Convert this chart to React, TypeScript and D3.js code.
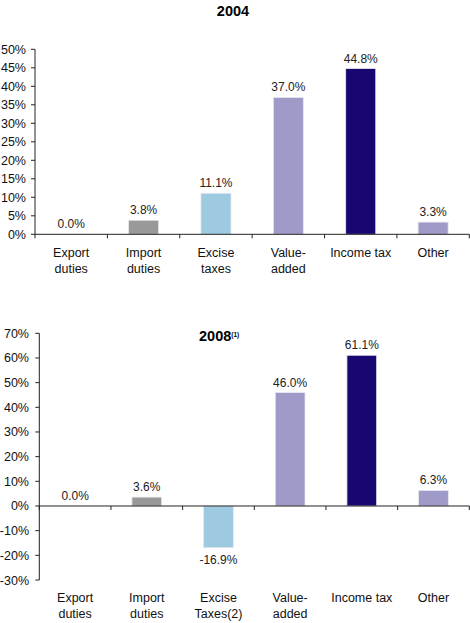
import React from "react";
import * as d3 from "d3";

const categories2004 = [["Export", "duties"], ["Import", "duties"], ["Excise", "taxes"], ["Value-", "added"], ["Income tax"], ["Other"]];
const values2004 = [0.0, 3.8, 11.1, 37.0, 44.8, 3.3];
const ticks2004 = [0, 5, 10, 15, 20, 25, 30, 35, 40, 45, 50];

const categories2008 = [["Export", "duties"], ["Import", "duties"], ["Excise", "Taxes(2)"], ["Value-", "added"], ["Income tax"], ["Other"]];
const values2008 = [0.0, 3.6, -16.9, 46.0, 61.1, 6.3];
const ticks2008 = [-30, -20, -10, 0, 10, 20, 30, 40, 50, 60, 70];

const colors = ["#999999", "#999999", "#9ecae1", "#9e9bc8", "#1a0670", "#9e9bc8"];

const FONT = "Arial, 'Liberation Sans', sans-serif";

type PanelProps = {
  cats: string[][];
  vals: number[];
  ticks: number[];
  x0: number;
  x1: number;
  yTop: number;
  yBot: number;
  labelRight: number;
  catBaseline: number;
};

function Panel({ cats, vals, ticks, x0, x1, yTop, yBot, labelRight, catBaseline }: PanelProps) {
  const names = cats.map((c) => c.join(" "));
  const x = d3.scaleBand<string>().domain(names).range([x0, x1]).paddingInner(0).paddingOuter(0);
  const y = d3.scaleLinear().domain([ticks[0], ticks[ticks.length - 1]]).range([yBot, yTop]);
  const bw = x.bandwidth() * 0.415;
  const y0 = y(0);
  const boundaries = d3.range(names.length + 1).map((i) => x0 + i * x.step());
  return (
    <g fontFamily={FONT}>
      {vals.map((v, i) => {
        const cx = (x(names[i]) as number) + x.bandwidth() / 2;
        const top = Math.min(y(v), y0);
        const h = Math.abs(y(v) - y0);
        return (
          <g key={i}>
            {h > 0 && (
              <rect x={cx - bw / 2} y={top} width={bw} height={h} fill={colors[i]} stroke="#e8e8f0" strokeWidth={0.8} />
            )}
            <text
              x={cx}
              y={v < 0 ? y(v) + 16 : y(v) - 6}
              textAnchor="middle"
              fontSize={12}
              fill="#222"
            >
              {v.toFixed(1) + "%"}
            </text>
          </g>
        );
      })}
      {/* y axis */}
      <line x1={x0} x2={x0} y1={yTop} y2={yBot} stroke="#222" strokeWidth={1} />
      {ticks.map((t) => (
        <g key={t}>
          <line x1={x0 - 4} x2={x0} y1={y(t)} y2={y(t)} stroke="#222" strokeWidth={1} />
          <text x={labelRight} y={y(t) + 4.5} textAnchor="end" fontSize={12.5} fill="#111">
            {t + "%"}
          </text>
        </g>
      ))}
      {/* x axis */}
      <line x1={x0} x2={x1} y1={y0} y2={y0} stroke="#222" strokeWidth={1} />
      {boundaries.map((b, i) => (
        <line key={i} x1={b} x2={b} y1={y0} y2={y0 + 4} stroke="#222" strokeWidth={1} />
      ))}
      {cats.map((c, i) => {
        const cx = (x(names[i]) as number) + x.bandwidth() / 2;
        return (
          <text key={i} x={cx} y={catBaseline} textAnchor="middle" fontSize={12.5} fill="#111">
            {c.map((line, j) => (
              <tspan key={j} x={cx} dy={j === 0 ? 0 : 16}>
                {line}
              </tspan>
            ))}
          </text>
        );
      })}
    </g>
  );
}

export default function App() {
  return (
    <svg
      width={470}
      height={623}
      style={{ position: "absolute", left: 0, top: 0, background: "#fff" }}
    >
      <rect width={470} height={623} fill="#fff" />
      <text x={233} y={16} textAnchor="middle" fontSize={14.5} fontWeight="bold" fontFamily={FONT} fill="#000">
        2004
      </text>
      <Panel
        cats={categories2004}
        vals={values2004}
        ticks={ticks2004}
        x0={35}
        x1={469.3}
        yTop={49.3}
        yBot={234.3}
        labelRight={26}
        catBaseline={256.5}
      />
      <text x={199} y={341} fontSize={14.5} fontWeight="bold" fontFamily={FONT} fill="#000">
        2008
        <tspan fontSize={6.5} dy={-4}>
          {"(1)"}
        </tspan>
      </text>
      <Panel
        cats={categories2008}
        vals={values2008}
        ticks={ticks2008}
        x0={39.3}
        x1={469.3}
        yTop={333.3}
        yBot={580}
        labelRight={29}
        catBaseline={602}
      />
    </svg>
  );
}
